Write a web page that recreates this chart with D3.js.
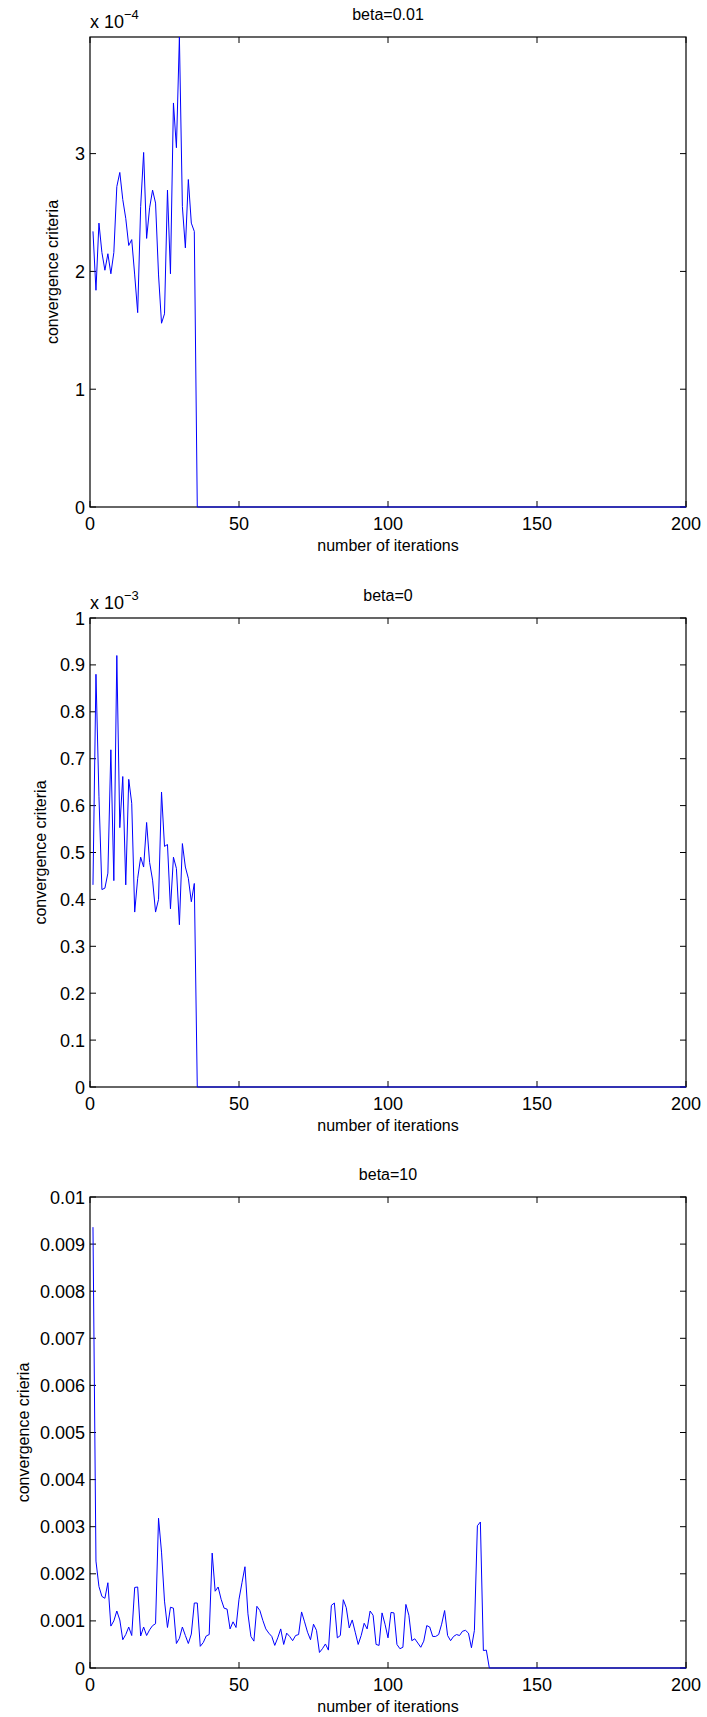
<!DOCTYPE html>
<html lang="en">
<head>
    <meta charset="UTF-8">
    <title>Convergence criteria</title>
    <script src="https://d3js.org/d3.v7.min.js"></script>
    <style>
        body { margin: 0; background: #fff; }
        text { font-family: "Liberation Sans", Arial, Helvetica, sans-serif; fill: #000; }
    </style>
</head>
<body>
<div id="chart"></div>
<script>
    // iterations start at 1
    const titles = ["beta=0.01", "beta=0", "beta=10"];
    const yLabels = ["convergence criteria", "convergence criteria", "convergence crieria"];
    const xTicks = [0, 50, 100, 150, 200];

    // beta=0.01, in units of 1e-4
    const beta001 = [2.34, 1.84, 2.41, 2.16, 2.01, 2.15, 1.98, 2.16, 2.72, 2.84,
        2.61, 2.45, 2.22, 2.27, 1.97, 1.65, 2.55, 3.01, 2.28, 2.54,
        2.69, 2.58, 1.97, 1.56, 1.64, 2.69, 1.98, 3.43, 3.05, 3.99,
        2.55, 2.20, 2.78, 2.41, 2.34, 0];
    const yTicks001 = [0, 1, 2, 3];

    // beta=0, in units of 1e-3
    const beta0 = [0.431, 0.880, 0.620, 0.421, 0.424, 0.456, 0.719, 0.440, 0.920, 0.553,
        0.662, 0.431, 0.656, 0.605, 0.373, 0.445, 0.490, 0.469, 0.564, 0.479,
        0.441, 0.373, 0.400, 0.629, 0.513, 0.517, 0.380, 0.490, 0.466, 0.346,
        0.519, 0.469, 0.445, 0.395, 0.434, 0];
    const yTicks0 = [0, 0.1, 0.2, 0.3, 0.4, 0.5, 0.6, 0.7, 0.8, 0.9, 1];

    // beta=10, in units of 1e-3
    const beta10 = [9.36, 2.27, 1.73, 1.52, 1.48, 1.81, 0.89, 1.00, 1.21, 1.02,
        0.60, 0.71, 0.87, 0.69, 1.71, 1.72, 0.68, 0.87, 0.69, 0.81,
        0.90, 0.94, 3.18, 2.46, 1.42, 0.86, 1.29, 1.27, 0.52, 0.63,
        0.87, 0.69, 0.52, 0.72, 1.38, 1.38, 0.46, 0.54, 0.68, 0.71,
        2.44, 1.63, 1.72, 1.46, 1.27, 1.25, 0.83, 0.98, 0.86, 1.46,
        1.81, 2.15, 1.15, 0.67, 0.57, 1.31, 1.22, 1.01, 0.83, 0.74,
        0.67, 0.48, 0.64, 0.83, 0.50, 0.74, 0.67, 0.58, 0.69, 0.71,
        1.19, 0.98, 0.76, 0.60, 0.93, 0.80, 0.33, 0.41, 0.51, 0.38,
        1.33, 1.38, 0.64, 0.69, 1.45, 1.28, 0.85, 1.02, 0.76, 0.50,
        0.69, 0.95, 0.83, 1.21, 1.12, 0.50, 0.48, 1.17, 0.93, 0.64,
        1.18, 1.17, 0.50, 0.41, 0.44, 1.35, 1.12, 0.58, 0.62, 0.53,
        0.44, 0.57, 0.90, 0.87, 0.67, 0.67, 0.71, 0.93, 1.22, 0.69,
        0.58, 0.67, 0.71, 0.69, 0.78, 0.80, 0.74, 0.43, 0.80, 3.02,
        3.10, 0.37, 0.38, 0];
    const yTicks10 = [0, 1, 2, 3, 4, 5, 6, 7, 8, 9, 10];

    // every run is flat at zero after it stops, up to the last iteration
    const lastIter = 200;

    const W = 707, H = 1717;
    const left = 90, right = 686;
    const tickFont = 18, labelFont = 16;

    const panels = [
        {title: titles[0], ylabel: yLabels[0], values: beta001, ticks: yTicks001, ymax: 3.99,
            top: 37, bottom: 507, exp: "−4", fmt: d => d3.format("d")(d), ylabelX: 58},
        {title: titles[1], ylabel: yLabels[1], values: beta0, ticks: yTicks0, ymax: 1,
            top: 618, bottom: 1087, exp: "−3", fmt: d => d === 0 || d === 1 ? String(d) : d3.format(".1f")(d), ylabelX: 46},
        {title: titles[2], ylabel: yLabels[2], values: beta10, ticks: yTicks10, ymax: 10,
            top: 1197, bottom: 1668, exp: null, fmt: d => d === 0 ? "0" : d === 10 ? "0.01" : "0.00" + d, ylabelX: 29}
    ];

    const svg = d3.select("#chart").append("svg")
        .attr("width", W)
        .attr("height", H);

    panels.forEach(p => {
        const x = d3.scaleLinear().domain([0, 200]).range([left, right]);
        const y = d3.scaleLinear().domain([0, p.ymax]).range([p.bottom, p.top]);
        const g = svg.append("g");
        const tickLen = 6;

        // ticks, pointing inwards on all four sides
        const tickG = g.append("g").attr("stroke", "#000").attr("stroke-width", 1);
        xTicks.forEach(t => {
            tickG.append("line").attr("x1", x(t)).attr("x2", x(t))
                .attr("y1", p.bottom).attr("y2", p.bottom - tickLen);
            tickG.append("line").attr("x1", x(t)).attr("x2", x(t))
                .attr("y1", p.top).attr("y2", p.top + tickLen);
        });
        p.ticks.forEach(t => {
            tickG.append("line").attr("x1", left).attr("x2", left + tickLen)
                .attr("y1", y(t)).attr("y2", y(t));
            tickG.append("line").attr("x1", right).attr("x2", right - tickLen)
                .attr("y1", y(t)).attr("y2", y(t));
        });

        g.append("rect")
            .attr("x", left).attr("y", p.top)
            .attr("width", right - left).attr("height", p.bottom - p.top)
            .attr("fill", "none").attr("stroke", "#000").attr("stroke-width", 1.2);

        // tick labels
        g.append("g").selectAll("text")
            .data(xTicks)
            .enter().append("text")
            .attr("x", d => x(d))
            .attr("y", p.bottom + 23)
            .attr("text-anchor", "middle")
            .attr("font-size", tickFont)
            .text(d => d);

        g.append("g").selectAll("text")
            .data(p.ticks)
            .enter().append("text")
            .attr("x", left - 5)
            .attr("y", d => y(d) + 6.5)
            .attr("text-anchor", "end")
            .attr("font-size", tickFont)
            .text(p.fmt);

        // exponent over the y axis
        if (p.exp) {
            const e = g.append("text")
                .attr("x", left)
                .attr("y", p.top - 9)
                .attr("font-size", tickFont);
            e.append("tspan").text("x 10");
            e.append("tspan").attr("dy", -9).attr("font-size", 13).text(p.exp);
        }

        g.append("text")
            .attr("x", (left + right) / 2)
            .attr("y", p.top - 17)
            .attr("text-anchor", "middle")
            .attr("font-size", labelFont)
            .text(p.title);

        g.append("text")
            .attr("x", (left + right) / 2)
            .attr("y", p.bottom + 44)
            .attr("text-anchor", "middle")
            .attr("font-size", labelFont)
            .text("number of iterations");

        g.append("text")
            .attr("transform", `translate(${p.ylabelX},${(p.top + p.bottom) / 2}) rotate(-90)`)
            .attr("text-anchor", "middle")
            .attr("font-size", labelFont)
            .text(p.ylabel);

        const pts = p.values.map((v, i) => [i + 1, v]);
        pts.push([lastIter, 0]);

        const line = d3.line()
            .x(d => x(d[0]))
            .y(d => y(d[1]));

        g.append("path")
            .datum(pts)
            .attr("d", line)
            .attr("fill", "none")
            .attr("stroke", "#0000ff")
            .attr("stroke-width", 1);
    });
</script>
</body>
</html>
